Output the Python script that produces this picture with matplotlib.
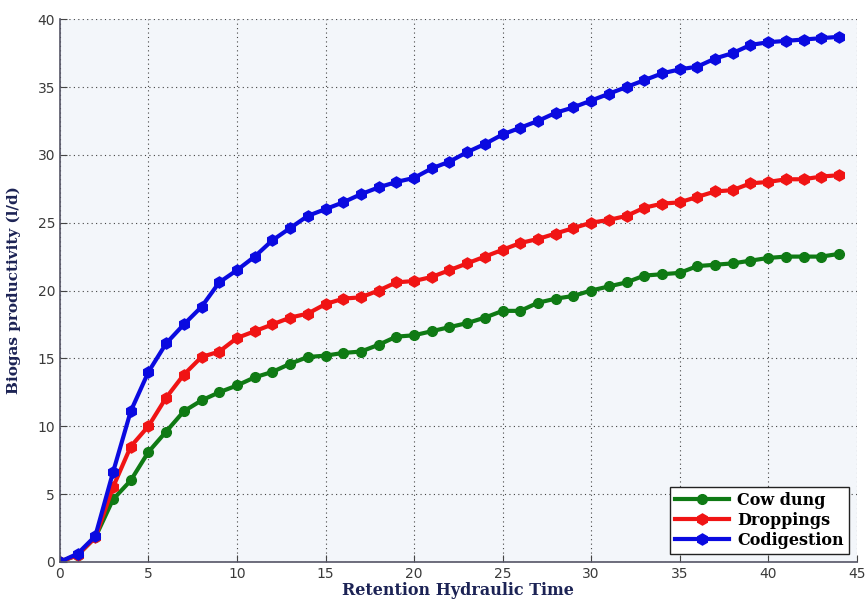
import numpy as np
import matplotlib
matplotlib.use("Agg")
import matplotlib.pyplot as plt

# retention time (days)
rht = np.arange(0, 45)

cow_dung = [0, 0.5, 1.8, 4.6, 6.0, 8.1, 9.6, 11.1, 11.9, 12.5,
            13.0, 13.6, 14.0, 14.6, 15.1, 15.2, 15.4, 15.5, 16.0, 16.6,
            16.7, 17.0, 17.3, 17.6, 18.0, 18.5, 18.5, 19.1, 19.4, 19.6,
            20.0, 20.3, 20.6, 21.1, 21.2, 21.3, 21.8, 21.9, 22.0, 22.2,
            22.4, 22.5, 22.5, 22.5, 22.7]

droppings = [0, 0.5, 1.8, 5.5, 8.5, 10.0, 12.1, 13.8, 15.1, 15.5,
             16.5, 17.0, 17.5, 18.0, 18.3, 19.0, 19.4, 19.5, 20.0, 20.6,
             20.7, 21.0, 21.5, 22.0, 22.5, 23.0, 23.5, 23.8, 24.2, 24.6,
             25.0, 25.2, 25.5, 26.1, 26.4, 26.5, 26.9, 27.3, 27.4, 27.9,
             28.0, 28.2, 28.2, 28.4, 28.5]

codigestion = [0, 0.6, 1.9, 6.6, 11.1, 14.0, 16.1, 17.5, 18.8, 20.6,
               21.5, 22.5, 23.7, 24.6, 25.5, 26.0, 26.5, 27.1, 27.6, 28.0,
               28.3, 29.0, 29.5, 30.2, 30.8, 31.5, 32.0, 32.5, 33.1, 33.5,
               34.0, 34.5, 35.0, 35.5, 36.0, 36.3, 36.5, 37.1, 37.5, 38.1,
               38.3, 38.4, 38.5, 38.6, 38.7]

fig = plt.figure(figsize=(8.68, 5.99), dpi=100)
ax = fig.add_axes([0.069, 0.062, 0.918, 0.906])
ax.set_facecolor("#f3f6fa")

ax.plot(rht, cow_dung, "-o", color="#0f7a14", lw=3, ms=7,
        mec="#0f7a14", label="Cow dung")
ax.plot(rht, droppings, "-h", color="#f01414", lw=3, ms=8,
        mec="#f01414", label="Droppings")
ax.plot(rht, codigestion, "-h", color="#0a0ae0", lw=3, ms=8,
        mec="#0a0ae0", label="Codigestion")

ax.set_xlim(0, 45)
ax.set_ylim(0, 40)
ax.set_xticks(range(0, 46, 5))
ax.set_yticks(range(0, 41, 5))
ax.grid(True, linestyle=(0, (1, 3)), color="#444444", lw=0.8)
ax.tick_params(direction="in", labelsize=10, labelcolor="#3a3a3a",
               color="#444444", length=5)
for side in ["top", "right"]:
    ax.spines[side].set_visible(False)
for side in ["left", "bottom"]:
    ax.spines[side].set_color("#555566")
    ax.spines[side].set_linewidth(1.2)

label_font = dict(family="DejaVu Serif", weight="bold", color="#1c2355")
ax.set_xlabel("Retention Hydraulic Time", fontsize=11.5, labelpad=1, **label_font)
ax.set_ylabel("Biogas productivity (l/d)", fontsize=11, labelpad=12, **label_font)

leg = ax.legend(loc="lower right", handlelength=3.4, fancybox=False,
                framealpha=1, edgecolor="#222222", borderpad=0.3,
                labelspacing=0.2, handletextpad=0.5,
                prop=dict(family="DejaVu Serif", weight="bold", size=11.5))
leg.get_frame().set_linewidth(1.0)

fig.savefig("out.png", dpi=100)
